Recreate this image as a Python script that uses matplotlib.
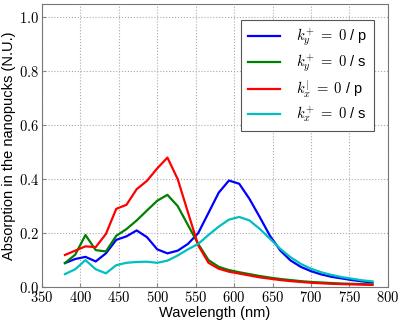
import numpy as np
import matplotlib
matplotlib.use("Agg")
import matplotlib.pyplot as plt
from matplotlib.ticker import FuncFormatter

wavelength = [380, 393.3, 406.7, 420, 433.3, 446.7, 460, 473.3, 486.7, 500,
              513.3, 526.7, 540, 553.3, 566.7, 580, 593.3, 606.7, 620, 633.3,
              646.7, 660, 673.3, 686.7, 700, 713.3, 726.7, 740, 753.3, 766.7, 780]

ky_p = [0.089, 0.104, 0.112, 0.095, 0.125, 0.175, 0.188, 0.21, 0.185, 0.14,
        0.125, 0.135, 0.16, 0.20, 0.275, 0.35, 0.395, 0.383, 0.327, 0.26,
        0.19, 0.136, 0.099, 0.075, 0.059, 0.047, 0.038, 0.032, 0.026, 0.021, 0.017]
ky_s = [0.089, 0.12, 0.193, 0.137, 0.132, 0.19, 0.215, 0.247, 0.284, 0.32,
        0.342, 0.30, 0.23, 0.16, 0.10, 0.075, 0.063, 0.055, 0.048, 0.041,
        0.035, 0.030, 0.026, 0.022, 0.019, 0.017, 0.015, 0.013, 0.012, 0.011, 0.010]
kx_p = [0.119, 0.135, 0.151, 0.148, 0.197, 0.29, 0.305, 0.363, 0.394, 0.44,
        0.48, 0.40, 0.277, 0.155, 0.09, 0.068, 0.057, 0.050, 0.043, 0.036,
        0.031, 0.026, 0.022, 0.019, 0.016, 0.014, 0.012, 0.011, 0.010, 0.009, 0.008]
kx_s = [0.048, 0.066, 0.10, 0.066, 0.051, 0.081, 0.09, 0.093, 0.094, 0.09,
        0.098, 0.117, 0.14, 0.16, 0.193, 0.224, 0.25, 0.26, 0.247, 0.216,
        0.179, 0.142, 0.111, 0.086, 0.068, 0.055, 0.045, 0.037, 0.031, 0.025, 0.021]

labels = [r"$k_y^{+}\;=\;0$ / p", r"$k_y^{+}\;=\;0$ / s",
          r"$k_x^{|}\;=\;0$ / p", r"$k_x^{+}\;=\;0$ / s"]
colors = ["#0000ff", "#008000", "#ff0000", "#00bfbf"]
x_ticks = [350, 400, 450, 500, 550, 600, 650, 700, 750, 800]
y_ticks = [0.0, 0.2, 0.4, 0.6, 0.8, 1.0]

plt.rcParams['mathtext.fontset'] = 'cm'
plt.rcParams['font.family'] = ['Liberation Sans', 'DejaVu Sans']

fig = plt.figure(figsize=(3.99, 3.24), dpi=100)
ax = fig.add_axes([0.105, 0.114, 0.867, 0.874])

for y, c, lab in zip([ky_p, ky_s, kx_p, kx_s], colors, labels):
    ax.plot(wavelength, y, color=c, lw=1.6, label=lab)

ax.set_xlim(350, 800)
ax.set_ylim(0, 1.05)
ax.set_xticks(x_ticks)
ax.set_yticks(y_ticks)
ax.xaxis.set_major_formatter(FuncFormatter(lambda v, p: r"$%d$" % v))
ax.yaxis.set_major_formatter(FuncFormatter(lambda v, p: r"$%.1f$" % v))
ax.tick_params(labelsize=10.5, direction='in', length=3, color='#888888', pad=2)
ax.grid(True, linestyle=':', color='#aaaaaa', linewidth=0.8)
for s in ax.spines.values():
    s.set_color('#777777')
    s.set_linewidth(0.8)

ax.set_xlabel("Wavelength (nm)", fontsize=10.5, labelpad=1)
ax.set_ylabel("Absorption in the nanopucks (N.U.)", fontsize=10.5, labelpad=2)

leg = ax.legend(loc='upper right', fontsize=10.5, fancybox=False, framealpha=1,
                edgecolor='#555555', handlelength=2.2, borderpad=0.45,
                labelspacing=0.3, handletextpad=1.1,
                bbox_to_anchor=(0.98, 0.968))
leg.get_frame().set_linewidth(0.8)

fig.savefig("out.png", dpi=100)
